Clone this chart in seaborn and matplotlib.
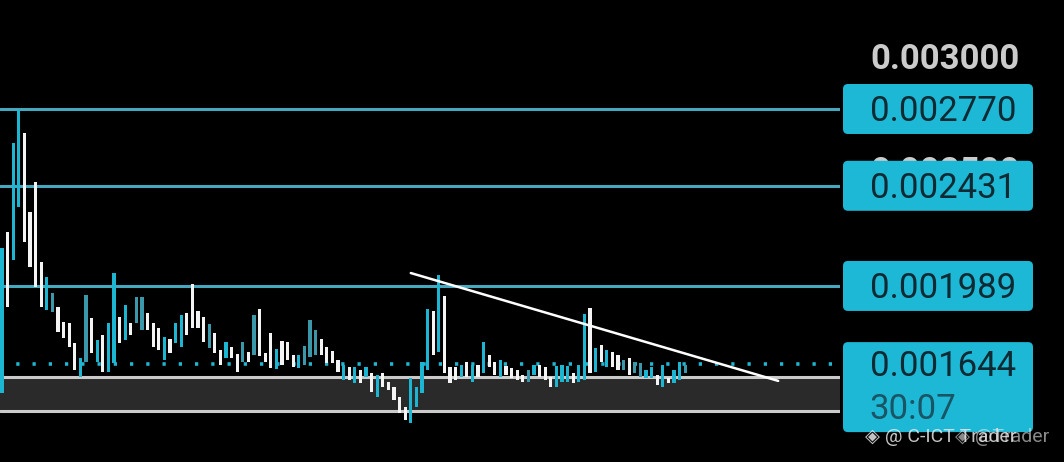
import matplotlib
matplotlib.use("Agg")
import matplotlib.pyplot as plt
import seaborn as sns
from matplotlib.patches import FancyBboxPatch

# candle ranges (price) left to right
highs = [0.002157, 0.002227, 0.002620, 0.002766, 0.002664, 0.002316, 0.002448, 0.002095, 0.002029, 0.001958,
         0.001896, 0.001830, 0.001826, 0.001737, 0.001671, 0.001949, 0.001848, 0.001751, 0.001773, 0.001826,
         0.002046, 0.001852, 0.001905, 0.001826, 0.001941, 0.001941, 0.001870, 0.001826, 0.001804, 0.001764,
         0.001755, 0.001826, 0.001861, 0.001870, 0.001998, 0.001879, 0.001852, 0.001821, 0.001782, 0.001707,
         0.001742, 0.001720, 0.001689, 0.001742, 0.001698, 0.001861, 0.001888, 0.001693, 0.001782, 0.001711,
         0.001746, 0.001742, 0.001684, 0.001684, 0.001724, 0.001839, 0.001795, 0.001755, 0.001720, 0.001702,
         0.001662, 0.001640, 0.001632, 0.001632, 0.001618, 0.001632, 0.001605, 0.001597, 0.001605, 0.001565,
         0.001543, 0.001499, 0.001455, 0.001583, 0.001543, 0.001654, 0.001888, 0.001879, 0.002038, 0.001945,
         0.001632, 0.001632, 0.001640, 0.001654, 0.001640, 0.001640, 0.001742, 0.001684, 0.001654, 0.001662,
         0.001636, 0.001627, 0.001618, 0.001597, 0.001618, 0.001640, 0.001640, 0.001632, 0.001588, 0.001636,
         0.001640, 0.001636, 0.001605, 0.001640, 0.001866, 0.001892, 0.001715, 0.001729, 0.001707, 0.001698,
         0.001684, 0.001662, 0.001671, 0.001654, 0.001649, 0.001618, 0.001632, 0.001597, 0.001640, 0.001583,
         0.001618, 0.001654, 0.001640]
lows = [0.001517, 0.001896, 0.002104, 0.002338, 0.002183, 0.002073, 0.001985, 0.001896, 0.001883, 0.001874,
        0.001786, 0.001760, 0.001720, 0.001618, 0.001588, 0.001654, 0.001693, 0.001654, 0.001610, 0.001610,
        0.001649, 0.001737, 0.001751, 0.001773, 0.001826, 0.001795, 0.001795, 0.001720, 0.001707, 0.001662,
        0.001693, 0.001737, 0.001720, 0.001773, 0.001804, 0.001804, 0.001742, 0.001715, 0.001693, 0.001640,
        0.001671, 0.001671, 0.001610, 0.001654, 0.001654, 0.001684, 0.001680, 0.001654, 0.001627, 0.001623,
        0.001640, 0.001662, 0.001632, 0.001627, 0.001640, 0.001676, 0.001684, 0.001684, 0.001649, 0.001649,
        0.001610, 0.001574, 0.001574, 0.001561, 0.001561, 0.001588, 0.001521, 0.001499, 0.001543, 0.001530,
        0.001486, 0.001429, 0.001398, 0.001384, 0.001455, 0.001517, 0.001618, 0.001684, 0.001698, 0.001605,
        0.001561, 0.001574, 0.001588, 0.001588, 0.001565, 0.001588, 0.001605, 0.001632, 0.001597, 0.001588,
        0.001597, 0.001583, 0.001574, 0.001565, 0.001565, 0.001597, 0.001588, 0.001574, 0.001543, 0.001543,
        0.001565, 0.001565, 0.001561, 0.001565, 0.001574, 0.001605, 0.001610, 0.001654, 0.001632, 0.001632,
        0.001618, 0.001618, 0.001597, 0.001605, 0.001588, 0.001583, 0.001583, 0.001552, 0.001543, 0.001561,
        0.001561, 0.001574, 0.001605]
# c = cyan (up), f = dim cyan, w = white (down)
kinds = ("cwccwwwwcf" "wwwwcfwcwc" "cwcwffwwwc" "wccwwwwfww" "cwwfwfwwwc"
         "wwwcfffwww" "wcwcwcwcww" "wwwccccwcw" "wwcwcwcwwc" "wwwwfcwwwc"
         "ccwccwcwcw" "wfwffccwcw" "ccf")

levels = [0.002770, 0.002431, 0.001989]
level_labels = ["0.002770", "0.002431", "0.001989"]
last_price = 0.001644
last_label = "0.001644"
countdown = "30:07"
band_top, band_bottom = 0.001588, 0.001438
trend_x = [73.0, 138.6]
trend_y = [0.002046, 0.001570]
axis_labels = [(0.003000, "0.003000"), (0.002500, "0.002500")]

sns.set_theme(style="dark", rc={"axes.facecolor": "black", "figure.facecolor": "black"})
plt.rcParams['font.family'] = ['Roboto', 'DejaVu Sans']

W, H = 1064, 462
fig = plt.figure(figsize=(W / 100, H / 100), dpi=100)
fig.patch.set_facecolor("black")
ax = fig.add_axes([0, 0, 840 / W, 1])
side = fig.add_axes([840 / W, 0, 224 / W, 1])

y_lo, y_hi = 0.001212, 0.003251
px = (y_hi - y_lo) / H  # price per pixel
for a in (ax, side):
    a.set_ylim(y_lo, y_hi)
    a.set_facecolor("black")
    a.set_xticks([])
    a.set_yticks([])
    for s in a.spines.values():
        s.set_visible(False)
ax.set_xlim(-0.357, 149.64)
side.set_xlim(0, 224)

palette = {"c": "#1cb5d2", "f": "#3b97aa", "w": "#f4f4f4"}
xs = list(range(len(highs)))
ax.bar(xs, [h - l for h, l in zip(highs, lows)], bottom=lows, width=0.55,
       color=[palette[k] for k in kinds], linewidth=0, zorder=4)

# support band
ax.axhspan(band_bottom, band_top, color="#2a2a2a", zorder=1, lw=0)
ax.axhline(band_top, color="#cacaca", lw=2.2, zorder=2)
ax.axhline(band_bottom, color="#cacaca", lw=2.2, zorder=2)

for lv in levels:
    ax.axhline(lv, color="#46a8be", lw=2.2, zorder=3)
ax.axhline(last_price, color="#22b5d0", lw=2.6, ls=(0, (0.9, 3.6)), zorder=3)

sns.lineplot(x=trend_x, y=trend_y, ax=ax, color="white", lw=1.8, zorder=5)

# right price scale
cap = 24 * px
for val, txt in axis_labels:
    side.text(105, val - cap / 2, txt, ha="center", va="baseline", fontsize=25,
              color="#cbcbcb", fontweight="bold", zorder=1)

box_col = "#1db8d5"
txt_col = "#0f2a33"
for lv, txt in zip(levels, level_labels):
    side.add_patch(FancyBboxPatch((3, lv - 25 * px), 190, 50 * px,
                                  boxstyle="round,pad=0,rounding_size=5",
                                  mutation_aspect=px, fc=box_col, ec="none", zorder=2))
    side.text(103, lv - cap / 2, txt, ha="center", va="baseline", fontsize=25,
              color=txt_col, zorder=3)

side.add_patch(FancyBboxPatch((3, last_price - 68 * px), 190, 90 * px,
                              boxstyle="round,pad=0,rounding_size=5",
                              mutation_aspect=px, fc=box_col, ec="none", zorder=2))
side.text(103, last_price - cap / 2, last_label, ha="center", va="baseline", fontsize=25,
          color=txt_col, zorder=3)
side.text(29, last_price - 43 * px - cap / 2, countdown, ha="left", va="baseline", fontsize=25,
          color="#1a5566", zorder=3)

# watermark
side.text(25, last_price - 73 * px, "◈ @ C-ICT Trader", ha="left", va="center", fontsize=14,
          color="#e6e6e6", alpha=0.85, zorder=4, family=["Roboto", "DejaVu Sans"])
side.text(115, last_price - 73 * px, "◈ @Trader", ha="left", va="center", fontsize=14,
          color="#e6e6e6", alpha=0.6, zorder=4, family=["Roboto", "DejaVu Sans"])

fig.savefig("out.png", dpi=100, facecolor="black")
